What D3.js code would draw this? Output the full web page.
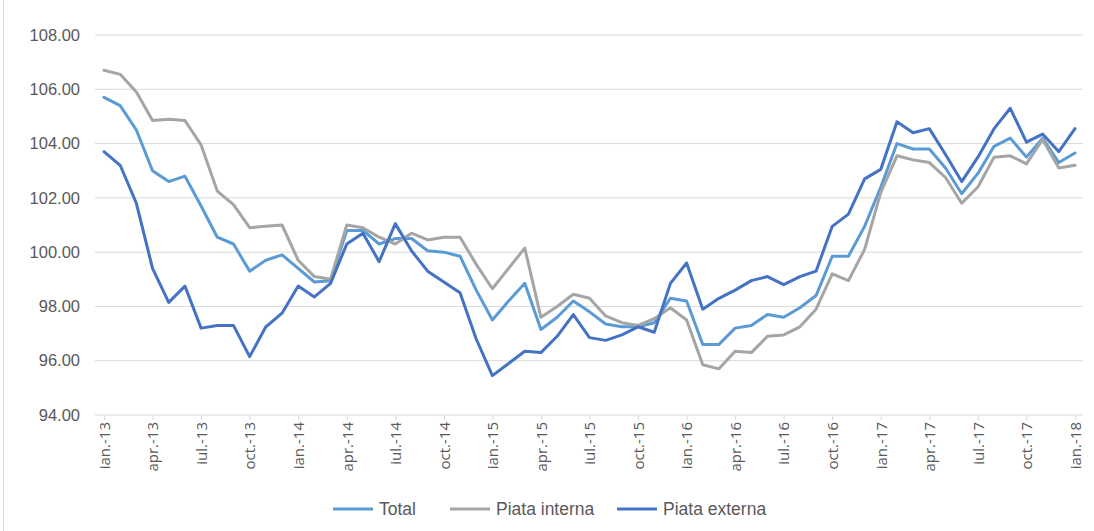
<!DOCTYPE html>
<html>
<head>
<meta charset="utf-8">
<script src="https://cdn.jsdelivr.net/npm/d3@7"></script>
<style>
  body { margin: 0; background: #fff; }
  svg { display: block; }
</style>
</head>
<body>
<svg id="chart" width="1094" height="531"></svg>
<script>
// months jan-13 .. jan-18
const months = d3.range(61).map(i => new Date(2013, i, 1));
const monthNames = ['ian.', 'feb.', 'mar.', 'apr.', 'mai.', 'iun.', 'iul.', 'aug.', 'sep.', 'oct.', 'nov.', 'dec.'];
const yTicks = [94, 96, 98, 100, 102, 104, 106, 108];

const total = [105.7, 105.4, 104.5, 103.0, 102.6, 102.8, 101.7, 100.55, 100.3, 99.3,
  99.7, 99.9, 99.4, 98.9, 98.95, 100.8, 100.8, 100.3, 100.5, 100.5,
  100.05, 100.0, 99.85, 98.6, 97.5, 98.2, 98.85, 97.15, 97.6, 98.2,
  97.8, 97.35, 97.25, 97.25, 97.4, 98.3, 98.2, 96.6, 96.6, 97.2,
  97.3, 97.7, 97.6, 97.95, 98.4, 99.85, 99.85, 100.95, 102.4, 104.0,
  103.8, 103.8, 103.1, 102.15, 102.9, 103.9, 104.2, 103.5, 104.2, 103.3, 103.65];

const piataInterna = [106.7, 106.55, 105.9, 104.85, 104.9, 104.85, 103.95, 102.25, 101.75, 100.9,
  100.95, 101.0, 99.7, 99.1, 99.0, 101.0, 100.9, 100.55, 100.3, 100.7,
  100.45, 100.55, 100.55, 99.55, 98.65, 99.4, 100.15, 97.6, 98.0, 98.45,
  98.3, 97.65, 97.4, 97.3, 97.55, 97.95, 97.5, 95.85, 95.7, 96.35,
  96.3, 96.9, 96.95, 97.25, 97.9, 99.2, 98.95, 100.1, 102.2, 103.55,
  103.4, 103.3, 102.75, 101.8, 102.4, 103.5, 103.55, 103.25, 104.15, 103.1, 103.2];

const piataExterna = [103.7, 103.2, 101.8, 99.4, 98.15, 98.75, 97.2, 97.3, 97.3, 96.15,
  97.25, 97.75, 98.75, 98.35, 98.85, 100.3, 100.7, 99.65, 101.05, 100.05,
  99.3, 98.9, 98.5, 96.8, 95.45, 95.9, 96.35, 96.3, 96.9, 97.7,
  96.85, 96.75, 96.95, 97.25, 97.05, 98.85, 99.6, 97.9, 98.3, 98.6,
  98.95, 99.1, 98.8, 99.1, 99.3, 100.95, 101.4, 102.7, 103.05, 104.8,
  104.4, 104.55, 103.6, 102.6, 103.5, 104.55, 105.3, 104.05, 104.35, 103.7, 104.55];

const series = [
  {name: 'Total', values: total, color: '#5B9BD5'},
  {name: 'Piata interna', values: piataInterna, color: '#A5A5A5'},
  {name: 'Piata externa', values: piataExterna, color: '#4472C4'}
];

const svg = d3.select('#chart');

const x = d3.scaleLinear().domain([0, 60]).range([104, 1075]);
const y = d3.scaleLinear().domain([94, 108]).range([415, 35]);

// chart frame edge
svg.append('line')
  .attr('x1', 3.5).attr('x2', 3.5).attr('y1', 0).attr('y2', 531)
  .attr('stroke', '#d9d9d9');

// gridlines
svg.append('g')
  .selectAll('line')
  .data(yTicks)
  .join('line')
  .attr('x1', 95).attr('x2', 1083)
  .attr('y1', d => y(d)).attr('y2', d => y(d))
  .attr('stroke', '#d9d9d9')
  .attr('stroke-width', 1);

// y labels
svg.append('g')
  .selectAll('text')
  .data(yTicks)
  .join('text')
  .attr('x', 80)
  .attr('y', d => y(d))
  .attr('dy', '0.35em')
  .attr('text-anchor', 'end')
  .attr('fill', '#595959')
  .style('font-family', '"Liberation Sans", sans-serif')
  .style('font-size', '16.5px')
  .text(d => d.toFixed(2));

// x axis
const xAxis = d3.axisBottom(x)
  .tickValues(d3.range(0, 61, 3))
  .tickSize(5)
  .tickFormat(i => monthNames[months[i].getMonth()] + '-' + String(months[i].getFullYear()).slice(2));

const gx = svg.append('g')
  .attr('transform', 'translate(0,' + y(94) + ')')
  .call(xAxis);

gx.select('.domain').remove();
gx.selectAll('.tick line').attr('stroke', '#d9d9d9');
gx.selectAll('.tick text')
  .attr('fill', '#595959')
  .style('font-family', '"Open Sans", "DejaVu Sans", sans-serif')
  .style('font-size', '15px')
  .attr('transform', 'rotate(-90)')
  .attr('text-anchor', 'end')
  .attr('x', -7)
  .attr('y', 0)
  .attr('dy', '0.35em');

// lines
const line = d3.line()
  .x((d, i) => x(i))
  .y(d => y(d));

svg.append('g')
  .selectAll('path')
  .data(series)
  .join('path')
  .attr('d', d => line(d.values))
  .attr('fill', 'none')
  .attr('stroke', d => d.color)
  .attr('stroke-width', 3)
  .attr('stroke-linejoin', 'round')
  .attr('stroke-linecap', 'round');

// legend
const legendX = [333, 450, 617];
const legend = svg.append('g')
  .selectAll('g')
  .data(series)
  .join('g')
  .attr('transform', (d, i) => 'translate(' + legendX[i] + ',509)');

legend.append('line')
  .attr('x1', 0).attr('x2', 40)
  .attr('stroke', d => d.color)
  .attr('stroke-width', 3);

legend.append('text')
  .attr('x', 46)
  .attr('dy', '0.35em')
  .attr('fill', '#595959')
  .style('font-family', '"Liberation Sans", sans-serif')
  .style('font-size', '17.5px')
  .text(d => d.name);
</script>
</body>
</html>
